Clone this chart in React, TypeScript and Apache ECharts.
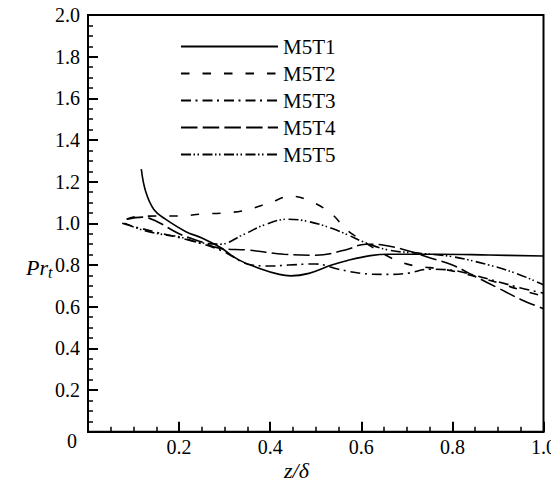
import React, { useEffect, useRef } from "react";
import * as echarts from "echarts";

const seriesNames = ["M5T1", "M5T2", "M5T3", "M5T4", "M5T5"];

const m5t1: [number, number][] = [
  [0.117, 1.26], [0.127, 1.15], [0.145, 1.065], [0.17, 1.02], [0.215, 0.96], [0.25, 0.93],
  [0.29, 0.885], [0.33, 0.826], [0.375, 0.785], [0.42, 0.755], [0.445, 0.748], [0.485, 0.76],
  [0.535, 0.8], [0.57, 0.822], [0.62, 0.845], [0.66, 0.852], [0.77, 0.852], [0.88, 0.848], [1.0, 0.843],
];
const m5t2: [number, number][] = [
  [0.085, 1.02], [0.1, 1.03], [0.15, 1.035], [0.2, 1.035], [0.25, 1.045], [0.3, 1.05],
  [0.35, 1.065], [0.4, 1.1], [0.445, 1.13], [0.49, 1.105], [0.535, 1.045], [0.565, 0.975],
  [0.6, 0.92], [0.64, 0.865], [0.68, 0.82], [0.72, 0.795], [0.78, 0.78], [0.85, 0.745],
  [0.9, 0.715], [0.95, 0.68], [1.0, 0.65],
];
const m5t3: [number, number][] = [
  [0.075, 1.0], [0.1, 0.985], [0.145, 0.96], [0.22, 0.92], [0.29, 0.872], [0.36, 0.8],
  [0.4, 0.795], [0.44, 0.8], [0.5, 0.805], [0.55, 0.78], [0.6, 0.76], [0.65, 0.755],
  [0.7, 0.76], [0.75, 0.78], [0.8, 0.775], [0.85, 0.75], [0.9, 0.72], [0.95, 0.69], [1.0, 0.665],
];
const m5t4: [number, number][] = [
  [0.085, 1.02], [0.12, 1.03], [0.15, 1.01], [0.2, 0.95], [0.25, 0.91], [0.29, 0.88],
  [0.35, 0.872], [0.43, 0.852], [0.5, 0.847], [0.565, 0.872], [0.61, 0.9], [0.65, 0.895],
  [0.7, 0.87], [0.75, 0.835], [0.8, 0.8], [0.85, 0.745], [0.9, 0.69], [0.95, 0.635], [1.0, 0.59],
];
const m5t5: [number, number][] = [
  [0.08, 1.0], [0.12, 0.968], [0.17, 0.944], [0.2, 0.936], [0.24, 0.91], [0.29, 0.9],
  [0.34, 0.945], [0.39, 0.995], [0.44, 1.02], [0.485, 1.008], [0.535, 0.976], [0.57, 0.945],
  [0.6, 0.915], [0.66, 0.872], [0.73, 0.856], [0.8, 0.84], [0.88, 0.8], [0.94, 0.76], [1.0, 0.705],
];

const seriesData = [m5t1, m5t2, m5t3, m5t4, m5t5];
const dashes: (string | number[])[] = [
  "solid",
  [8.5, 13],
  [10, 4.5, 2, 5],
  [16.5, 5.2],
  [10, 2.5, 1.5, 2.5, 1.5, 3.5],
];

const FONT = "Liberation Serif";

export default function App() {
  const ref = useRef<HTMLDivElement>(null);
  useEffect(() => {
    if (!ref.current) return;
    const chart = echarts.init(ref.current, undefined, { renderer: "svg" });
    const labelStyle = {
      color: "#000",
      fontFamily: FONT,
      fontSize: 20,
      fontWeight: "normal" as const,
      formatter: (v: number) => (v === 0 ? "" : v.toFixed(1)),
    };
    const axisCommon = {
      axisLine: { show: true, lineStyle: { color: "#000", width: 2 } },
      axisTick: { show: true, inside: true, length: 10, lineStyle: { color: "#000", width: 2 } },
      minorTick: { show: true, splitNumber: 4, length: 5, lineStyle: { color: "#000", width: 1.5 } },
      splitLine: { show: false },
    };
    chart.setOption({
      animation: false,
      backgroundColor: "#fff",
      textStyle: { fontFamily: FONT, color: "#000" },
      grid: {
        left: 88,
        right: 12.5,
        top: 15,
        bottom: 55.3,
        show: true,
        borderColor: "#000",
        borderWidth: 2,
        backgroundColor: "transparent",
      },
      xAxis: {
        type: "value",
        min: 0,
        max: 1,
        interval: 0.2,
        ...axisCommon,
        axisLabel: { ...labelStyle, margin: 5 },
      },
      yAxis: {
        type: "value",
        min: 0,
        max: 2,
        interval: 0.2,
        ...axisCommon,
        axisLabel: { ...labelStyle, margin: 8 },
      },
      legend: {
        orient: "vertical",
        left: 175,
        top: 31,
        itemWidth: 97,
        itemHeight: 20,
        itemGap: 6,
        data: seriesNames,
        itemStyle: { opacity: 0 },
        textStyle: { color: "#000", fontFamily: FONT, fontSize: 21 },
      },
      graphic: [
        {
          type: "text",
          left: 67,
          top: 431,
          style: { text: "0", fill: "#000", fontFamily: FONT, fontSize: 20 },
        },
        {
          type: "text",
          left: 26,
          top: 256,
          style: {
            text: "{a|Pr}{b|t}",
            fill: "#000",
            rich: {
              a: { fontFamily: FONT, fontSize: 22, fontStyle: "italic", fill: "#000" },
              b: { fontFamily: FONT, fontSize: 16, fontStyle: "italic", fill: "#000", padding: [10, 0, 0, 0] },
            },
          },
        },
        {
          type: "text",
          left: 284,
          top: 459,
          style: { text: "z/δ", fill: "#000", fontFamily: FONT, fontSize: 22, fontStyle: "italic" },
        },
      ],
      series: seriesNames.map((name, i) => ({
        name,
        type: "line",
        data: seriesData[i],
        smooth: 0.4,
        symbol: "none",
        showSymbol: false,
        lineStyle: { color: "#000", width: 1.6, type: dashes[i] },
        itemStyle: { color: "#000" },
      })),
    });
    return () => chart.dispose();
  }, []);
  return <div ref={ref} style={{ width: 559, height: 487, margin: -8 }} />;
}
